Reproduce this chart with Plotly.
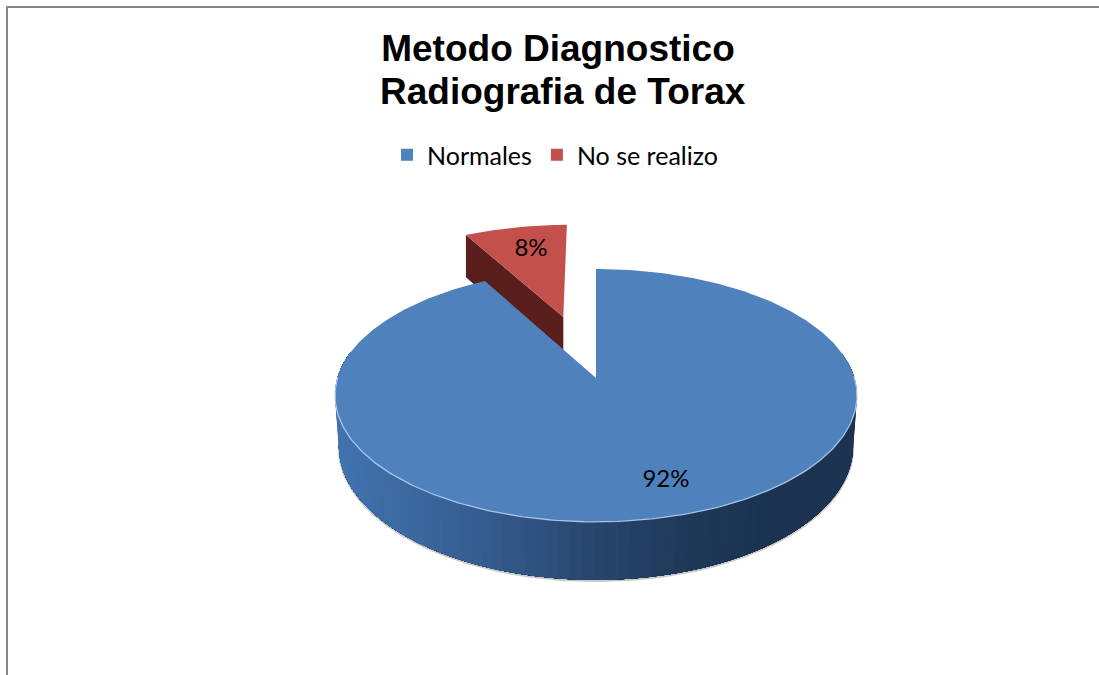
import numpy as np
import plotly.graph_objects as go

# --- data ---
categories = ["Normales", "No se realizo"]
values = [92, 8]
colors = ["#4F81BD", "#C0504D"]
title_lines = ["Metodo Diagnostico", "Radiografia de Torax"]

# --- view of the tilted disc (screen units) ---
W, H = 1099, 675
cx, ay = 596.0, 378.0
A, B, k = 258.5, 124.0, 0.138
D = 50.0
explode, red_scale = 0.546, 0.96
wall_stops_x = [335, 430, 520, 600, 700, 800, 857]
wall_stops_rgb = [(66, 116, 176), (58, 102, 156), (50, 86, 134), (40, 70, 108),
                  (30, 56, 88), (27, 50, 80), (29, 52, 82)]


def proj(u, v, depth=0.0, bottom=False):
    den = 1 + k * v
    sx = cx + A * u / den
    sy = ay - B * v / den + depth / den
    if bottom:
        sx = cx + (sx - cx) * 0.985
    return sx, sy


total = sum(values)
a0 = 0.0
a1 = 2 * np.pi * values[0] / total
a2 = 2 * np.pi
t_blue = np.linspace(a0, a1, 361)
t_red = np.linspace(a1, a2, 41)
mid = (a1 + a2) / 2
du, dv = explode * np.sin(mid), explode * np.cos(mid)

fig = go.Figure()


def poly(x, y, color, width=0):
    fig.add_trace(go.Scatter(
        x=list(x), y=list(y), mode="lines", fill="toself", fillcolor=color,
        line=dict(color=color, width=width), hoverinfo="skip", showlegend=False))


# exploded slice: wall, then top
ra_u = du + red_scale * np.sin(t_red)
ra_v = dv + red_scale * np.cos(t_red)
left_u, left_v = ra_u[0], ra_v[0]
wu = np.array([left_u, du, du, left_u])
wv = np.array([left_v, dv, dv, left_v])
wd = np.array([0, 0, D, D])
wx, wy = proj(wu, wv, wd)
poly(wx, wy, "#5A1F1C")
rx, ry = proj(np.r_[du, ra_u, du], np.r_[dv, ra_v, dv])
poly(rx, ry, "#C4504C")

# soft halo under the near wall
near = t_blue[(np.cos(t_blue) < 0.22)]
hx, hy = proj(np.sin(near), np.cos(near), D, True)
fig.add_trace(go.Scatter(x=hx, y=hy + 1, mode="lines",
                         line=dict(color="rgba(120,120,120,0.4)", width=2.5),
                         hoverinfo="skip", showlegend=False))

# blue wall, shaded band by band: each band is painted over the rest of the wall,
# so neighbouring bands leave no seams
edges = np.linspace(near[0], near[-1], 91)
for t0 in edges[:-1]:
    tt = np.linspace(t0, near[-1], 120)
    xt, yt = proj(np.sin(tt), np.cos(tt))
    xb, yb = proj(np.sin(tt), np.cos(tt), D, True)
    xm = float(xt[0])
    rgb = [int(np.interp(xm, wall_stops_x, [c[i] for c in wall_stops_rgb])) for i in range(3)]
    poly(np.r_[xt, xb[::-1]], np.r_[yt, yb[::-1]], f"rgb({rgb[0]},{rgb[1]},{rgb[2]})")

# blue top
bx, by = proj(np.sin(t_blue), np.cos(t_blue))
poly(np.r_[cx, bx, cx], np.r_[ay, by, ay], colors[0])

# light rim on the near edge
rim = t_blue[np.cos(t_blue) < 0.02]
rimx, rimy = proj(np.sin(rim), np.cos(rim))
fig.add_trace(go.Scatter(x=rimx, y=rimy, mode="lines",
                         line=dict(color="rgba(185,212,240,0.85)", width=1.3),
                         hoverinfo="skip", showlegend=False))

# value labels
fig.add_trace(go.Scatter(x=[666, 531], y=[481, 250], mode="text",
                         text=[f"{round(100 * v / total)}%" for v in values],
                         textfont=dict(family="Lato", size=24, color="#000000"),
                         hoverinfo="skip", showlegend=False))

# legend entries
for name, col in zip(categories, colors):
    fig.add_trace(go.Scatter(x=[None], y=[None], mode="markers", name=name,
                             marker=dict(symbol="square", size=14, color=col)))

title_font = dict(family="Liberation Sans", size=37, color="#000000", weight="bold")
fig.update_layout(
    width=W, height=H, margin=dict(l=0, r=0, t=0, b=0),
    paper_bgcolor="#FFFFFF", plot_bgcolor="#FFFFFF",
    xaxis=dict(range=[0, W], visible=False, fixedrange=True),
    yaxis=dict(range=[H, 0], visible=False, fixedrange=True),
    title=dict(text=title_lines[0], x=558 / W, xanchor="center", y=1 - 48 / H,
               yanchor="middle", font=title_font),
    annotations=[dict(text=title_lines[1], x=562.5, y=91, xref="x", yref="y", showarrow=False,
                      xanchor="center", yanchor="middle", font=title_font)],
    legend=dict(orientation="h", x=387 / W, xanchor="left", y=1 - 155 / H, yanchor="middle",
                font=dict(family="Lato", size=25, color="#000000"),
                bgcolor="rgba(0,0,0,0)", itemsizing="constant", itemclick=False, itemdoubleclick=False),
    shapes=[dict(type="path", xref="x", yref="y", path=f"M 7 {H} L 7 7 L {W} 7",
                 line=dict(color="#868686", width=2))],
    showlegend=True,
)
fig.write_html("out.html", config=dict(displayModeBar=False),
               post_script="document.body.style.margin='0';")
